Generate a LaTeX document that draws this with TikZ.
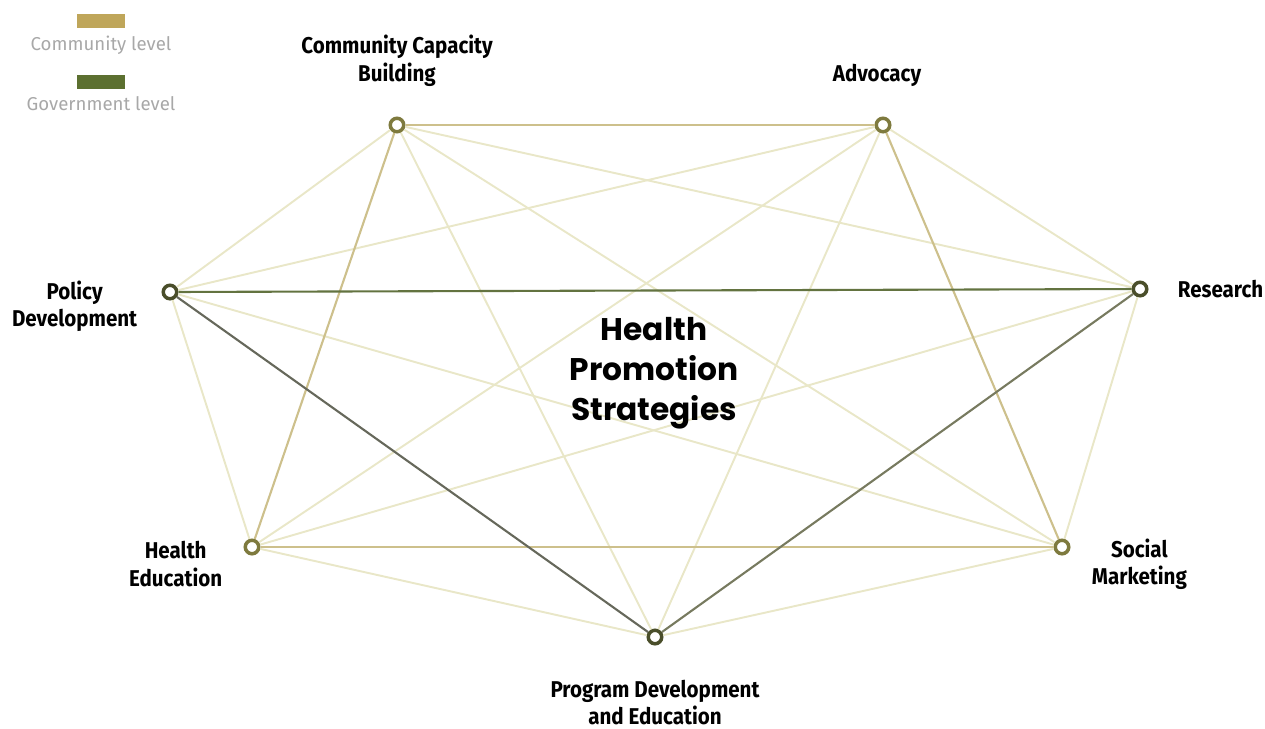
\documentclass[tikz,border=0pt]{standalone}
\usepackage{fontspec}
\setmainfont{Fira Sans}
\newfontfamily\lblfont[FakeStretch=0.9]{Fira Sans}
\newfontfamily\hdfont{Poppins}
\usetikzlibrary{positioning}
\definecolor{Cc}{HTML}{BFA65A}
\definecolor{Gc}{HTML}{5C7030}
\definecolor{faint}{HTML}{E9E7C8}
\definecolor{tanln}{HTML}{CDC08C}
\definecolor{ring}{HTML}{7E7A3E}
\definecolor{ringdk}{HTML}{4A4E2A}
\definecolor{legtxt}{HTML}{A8A8A8}
\tikzset{
  site/.style={circle, draw=ring, fill=white, line width=2pt, inner sep=0pt, minimum size=0.27cm},
  sitedk/.style={site, draw=ringdk},
  lbl/.style={font=\lblfont\bfseries\fontsize{13}{15.5}\selectfont, align=center, inner sep=0pt},
  weak/.style={faint, line width=1.1pt},
  comm/.style={tanln, line width=1.2pt},
  swatch/.style={rectangle, inner sep=0pt, minimum width=0.96cm, minimum height=0.27cm},
  legend/.style={font=\fontsize{10.6}{12}\selectfont, text=legtxt, inner sep=0pt},
}
\begin{document}
\begin{tikzpicture}[x=0.02cm, y=-0.02cm]
  \useasboundingbox (0,0) rectangle (1265,728);
  % legend
  \node[swatch, fill=Cc] (sw1) at (101,21) {};
  \node[legend] (lg1) at (101,45) {Community level};
  \node[swatch, fill=Gc] (sw2) at (101,82) {};
  \node[legend] (lg2) at (101,104) {Government level};
  % strategy sites
  \node[site] (C) at (397,125) {};
  \node[site] (A) at (883,125) {};
  \node[sitedk] (P) at (170,292) {};
  \node[sitedk] (R) at (1140,289) {};
  \node[site] (H) at (252,547) {};
  \node[site] (S) at (1062,547) {};
  \node[sitedk] (G) at (655,637) {};
  % links: pale ones first
  \foreach \u/\v in {C/P,C/R,C/S,C/G,A/P,A/R,A/H,A/G,P/H,P/S,R/H,R/S,H/G,S/G}
    \draw[weak] (\u) -- (\v);
  % community level links
  \foreach \u/\v in {C/A,C/H,A/S,H/S}
    \draw[comm] (\u) -- (\v);
  % government level links
  \draw[line width=1.2pt, color=Gc!80!gray] (P) -- (R);
  \draw[line width=1.2pt, color=black!50!ringdk!70] (P) -- (G);
  \draw[line width=1.2pt, color=ringdk!75] (G) -- (R);
  % labels
  \node[lbl, above=0.6cm of C] (Cl) {Community Capacity\\Building};
  \node[lbl, above=0.6cm of A, xshift=-0.12cm] (Al) {Advocacy};
  \node[lbl, left=0.48cm of P, yshift=-0.28cm] (Pl) {Policy\\Development};
  \node[lbl, right=0.58cm of R] (Rl) {Research};
  \node[lbl, left=0.42cm of H, yshift=-0.34cm] (Hl) {Health\\Education};
  \node[lbl, right=0.42cm of S, yshift=-0.34cm] (Sl) {Social\\Marketing};
  \node[lbl, below=0.68cm of G] (Gl) {Program Development\\and Education};
  \node[font=\hdfont\bfseries\fontsize{17.8}{22.7}\selectfont, align=center, inner sep=0pt] (hps) at (654,373) {Health\\Promotion\\Strategies};
\end{tikzpicture}
\end{document}
